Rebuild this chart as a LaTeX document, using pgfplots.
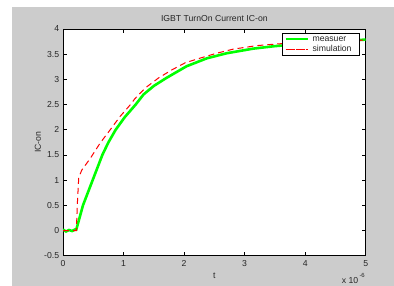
\documentclass[border=0pt]{standalone}
\usepackage{pgfplots}
\pgfplotsset{compat=1.18}
\usepackage{fontspec}
\setmainfont{Liberation Sans}
\definecolor{figgray}{RGB}{204,204,204}
\definecolor{mgreen}{RGB}{0,255,0}
\definecolor{mred}{RGB}{255,0,0}
\newcommand{\ff}{\fontsize{8.7}{10}\selectfont}
\begin{document}
\begin{tikzpicture}
\useasboundingbox (0,0) rectangle (394bp,-286bp);
\fill[white] (0,0) rectangle (394bp,-286bp);
\fill[figgray] (12bp,-7bp) rectangle (394bp,-286bp);
\begin{axis}[
  at={(63bp,-255.7bp)}, anchor=south west,
  scale only axis, width=302.7bp, height=226.7bp,
  xmin=0, xmax=5, ymin=-0.5, ymax=4,
  xtick={0,1,2,3,4,5}, xticklabels={0,1,2,3,4,5},
  ytick={-0.5,0,0.5,1,1.5,2,2.5,3,3.5,4},
  yticklabels={-0.5,0,0.5,1,1.5,2,2.5,3,3.5,4},
  tick align=inside, major tick length=4bp,
  tick style={black, line width=0.6bp},
  axis line style={black, line width=0.9bp},
  axis background/.style={fill=white},
  tick label style={font=\ff, text=black!85},
  xticklabel style={inner sep=0pt, yshift=-4.6bp},
  yticklabel style={inner sep=0pt, xshift=-3.7bp},
  title={IGBT TurnOn Current IC-on},
  title style={font=\ff, at={(axis description cs:0.5,1.0441)}, anchor=center, inner sep=0pt, yshift=-6pt, text=black!85},
  xlabel={t},
  xlabel style={font=\ff, at={(axis description cs:0.5,-0.0895)}, anchor=center, inner sep=0pt, text=black!85},
  ylabel={IC-on},
  ylabel style={font=\ff, at={(axis description cs:-0.0826,0.5)}, anchor=center, inner sep=0pt, rotate=0, text=black!85},
  legend style={at={(rel axis cs:1,1)}, anchor=north east, xshift=-5.7bp, yshift=-3.7bp,
    draw=black, line width=0.9bp, fill=white, inner xsep=2bp, inner ysep=1bp, row sep=0pt, column sep=0pt, font=\ff,
    nodes={inner xsep=3.7bp, inner ysep=1bp, text height=6.5bp, text depth=1.5bp, text width=41.3bp, anchor=west, text=black!85}},
  legend cell align=left,
]
\addplot[mgreen, line width=2.6bp,
  legend image code/.code={\path (0bp,0bp) -- (22bp,0bp); \draw[mgreen, line width=1bp, solid] (3bp,0bp) -- (21bp,0bp);}] coordinates {
(0,0.02) (0.05,-0.02) (0.1,0.01) (0.15,-0.01) (0.2,0.02) (0.22,0.02)
(0.33,0.5) (0.49,1.0) (0.65,1.5) (0.75,1.75) (0.87,2.0) (1.02,2.25)
(1.2,2.5) (1.33,2.7) (1.5,2.87) (1.71,3.03) (2.04,3.26) (2.38,3.42)
(2.71,3.52) (3.14,3.61) (3.5,3.66) (4.0,3.71) (4.5,3.75) (5.0,3.79)
};
\addlegendentry{measuer}
\addplot[mred, line width=1bp, dash pattern=on 6bp off 4bp,
  legend image code/.code={\path (0bp,0bp) -- (22bp,0bp); \draw[mred, line width=1bp, dash pattern=on 6bp off 4bp] (3bp,0bp) -- (21bp,0bp);}] coordinates {
(0,0) (0.22,0) (0.24,0.6) (0.26,1.05) (0.31,1.2) (0.45,1.43) (0.61,1.73)
(0.78,2.0) (0.94,2.26) (1.1,2.48) (1.19,2.62) (1.36,2.83) (1.58,3.03)
(1.8,3.19) (2.02,3.33) (2.26,3.42) (2.54,3.52) (2.81,3.60) (3.2,3.67)
(3.5,3.70) (4.0,3.74) (4.5,3.76) (5.0,3.78)
};
\addlegendentry{simulation}
\end{axis}
\node[anchor=base west, inner sep=0pt, font=\ff, text=black!85] at (341.7bp,-283.8bp) {x 10};
\node[anchor=base west, inner sep=0pt, font=\fontsize{6}{7}\selectfont, text=black!85] at (359.3bp,-277.9bp) {-6};
\end{tikzpicture}
\end{document}
